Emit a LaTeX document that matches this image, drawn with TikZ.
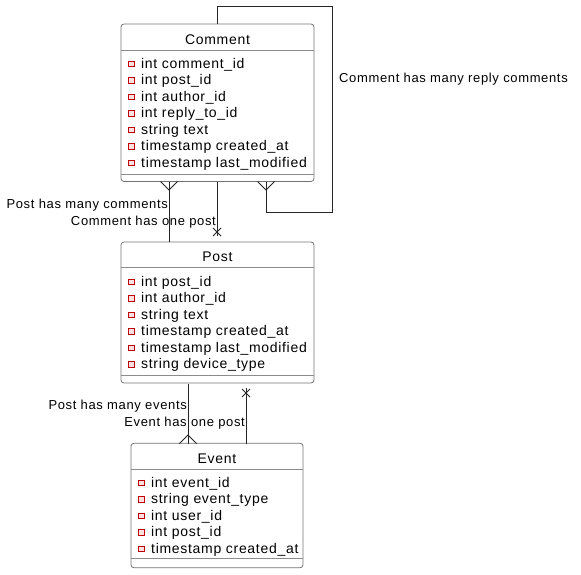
\documentclass[tikz,border=0pt]{standalone}
\usepackage{fontspec}
\setmainfont{Liberation Sans}[LetterSpace=5]
\usetikzlibrary{calc}
\begin{document}
\begin{tikzpicture}[x=1pt,y=-1pt,
  erbox/.style={draw=black!55, line width=0.8pt, rounded corners=3pt, inner sep=0pt},
  sepline/.style={draw=black!45, line width=0.7pt},
  title/.style={font=\fontsize{14}{16}\selectfont, inner sep=0pt},
  attr/.style={font=\fontsize{14}{16}\selectfont, anchor=west, inner sep=0pt},
  keysq/.style={draw=red!75!black, fill=red!12, line width=0.6pt, minimum size=5.5pt, inner sep=0pt},
  rel/.style={draw=black!85, line width=0.8pt},
  lbl/.style={font=\fontsize{13}{15}\selectfont, inner sep=0pt}]
\useasboundingbox (0,0) rectangle (581,575);

% ---------- Comment ----------
\node[erbox, minimum width=193pt, minimum height=157.5pt] (comment) at (217.5,102.75) {};
\node[title] (commentT) at (217.5,39.5) {Comment};
\draw[sepline] (121,50.5) -- (314,50.5);
\draw[sepline] (121,174) -- (314,174);
\foreach \t [count=\i] in {int comment\_id, int post\_id, int author\_id, int reply\_to\_id, string text, timestamp created\_at, timestamp last\_modified}{
  \node[keysq] (cks\i) at (131.5,{64+16.5*(\i-1)}) {};
  \node[attr] (cat\i) at (141,{64.5+16.5*(\i-1)}) {\t};
}

% ---------- Post ----------
\node[erbox, minimum width=193pt, minimum height=141pt] (post) at (217.5,312.5) {};
\node[title] (postT) at (217.5,256.5) {Post};
\draw[sepline] (121,267.5) -- (314,267.5);
\draw[sepline] (121,375.5) -- (314,375.5);
\foreach \t [count=\i] in {int post\_id, int author\_id, string text, timestamp created\_at, timestamp last\_modified, string device\_type}{
  \node[keysq] (pks\i) at (131.5,{282+16.5*(\i-1)}) {};
  \node[attr] (pat\i) at (141,{282.5+16.5*(\i-1)}) {\t};
}

% ---------- Event ----------
\node[erbox, minimum width=172pt, minimum height=124.5pt] (event) at (217,505.5) {};
\node[title] (eventT) at (217,458.5) {Event};
\draw[sepline] (131,469.5) -- (303,469.5);
\draw[sepline] (131,558.5) -- (303,558.5);
\foreach \t [count=\i] in {int event\_id, string event\_type, int user\_id, int post\_id, timestamp created\_at}{
  \node[keysq] (eks\i) at (141.5,{483+16.5*(\i-1)}) {};
  \node[attr] (eat\i) at (151,{483.5+16.5*(\i-1)}) {\t};
}

% ---------- connector coordinates ----------
\coordinate (cpA) at (169,181.5);   % Comment bottom, many comments
\coordinate (ppA) at (169,241.5);   % Post top
\coordinate (cpB) at (217,181.5);   % Comment bottom, one post
\coordinate (ppB) at (217,236);     % near Post top
\coordinate (ctop) at (217,24);
\coordinate (lp1) at (217,6);
\coordinate (lp2) at (332,6);
\coordinate (lp3) at (332,212);
\coordinate (lp4) at (266,212);
\coordinate (cpC) at (266,181.5);
\coordinate (peA) at (188,383.5);
\coordinate (epA) at (188,443.5);
\coordinate (epB) at (246,443.5);
\coordinate (peB) at (246,388);

% Post has many comments
\draw[rel] (ppA) -- (cpA);
\draw[rel] ($(cpA)+(-8.5,0)$) -- ($(cpA)+(0,8.5)$) -- ($(cpA)+(8.5,0)$);
% Comment has one post
\draw[rel] (cpB) -- (ppB);
\draw[rel] (213,228) -- (221,236) (213,236) -- (221,228);
% Comment has many reply comments
\draw[rel] (ctop) -- (lp1) -- (lp2) -- (lp3) -- (lp4) -- (cpC);
\draw[rel] ($(cpC)+(-8.5,0)$) -- ($(cpC)+(0,8.5)$) -- ($(cpC)+(8.5,0)$);
% Post has many events
\draw[rel] (peA) -- (epA);
\draw[rel] ($(epA)+(-8.5,0)$) -- ($(epA)+(0,-8.5)$) -- ($(epA)+(8.5,0)$);
% Event has one post
\draw[rel] (epB) -- (peB);
\draw[rel] (242,389) -- (250,397) (242,397) -- (250,389);

% labels
\node[lbl, anchor=east] (l1) at (168,205.5) {Post has many comments};
\node[lbl, anchor=east] (l2) at (216,222.5) {Comment has one post};
\node[lbl, anchor=west] (l3) at (339,79.5) {Comment has many reply comments};
\node[lbl, anchor=east] (l4) at (187,406.5) {Post has many events};
\node[lbl, anchor=east] (l5) at (245,423.5) {Event has one post};
\end{tikzpicture}
\end{document}
